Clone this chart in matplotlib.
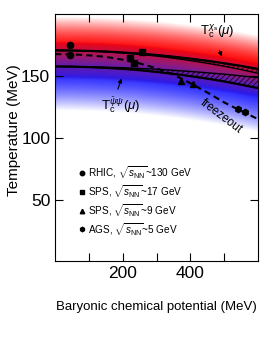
import numpy as np
import matplotlib
matplotlib.use("Agg")
import matplotlib.pyplot as plt

plt.rcParams['font.family'] = ['Liberation Sans', 'DejaVu Sans']
plt.rcParams['mathtext.fontset'] = 'custom'
plt.rcParams['mathtext.rm'] = 'Liberation Sans'
plt.rcParams['mathtext.it'] = 'Liberation Sans:italic'
plt.rcParams['hatch.linewidth'] = 0.5

# transition lines (mu in MeV, T in MeV)
mu = [0, 50, 100, 150, 200, 250, 300, 350, 400, 450, 500, 550, 600]
tchi_hi = [170.5, 170.4, 170.1, 169.6, 168.8, 167.9, 166.8, 165.4, 163.8, 162.1, 160.1, 157.9, 155.5]
tchi_lo = [170.5, 170.4, 170.0, 169.3, 168.4, 167.3, 165.9, 164.2, 162.3, 160.1, 157.7, 155.0, 152.0]
tpsi_hi = [157.5, 157.4, 157.3, 156.9, 156.5, 155.9, 155.3, 154.4, 153.5, 152.4, 151.3, 149.9, 148.5]
tpsi_lo = [157.5, 157.4, 157.0, 156.4, 155.6, 154.5, 153.1, 151.5, 149.7, 147.7, 145.4, 142.8, 140.0]
freezeout = [167.5, 167.3, 166.5, 165.3, 163.0, 160.0, 156.0, 151.0, 144.0, 136.5, 128.5, 121.5, 115.0]

# data points
rhic_mu = [45, 45]
rhic_t = [175, 166.5]
sps17_mu = [222, 232, 258]
sps17_t = [164.5, 160.0, 169.5]
sps9_mu = [371, 409]
sps9_t = [145.5, 143.0]
ags_mu = [542, 562]
ags_t = [123.5, 121.0]

legend_labels = [r'RHIC, $\sqrt{s_{\rm NN}}$~130 GeV',
                 r'SPS, $\sqrt{s_{\rm NN}}$~17 GeV',
                 r'SPS, $\sqrt{s_{\rm NN}}$~9 GeV',
                 r'AGS, $\sqrt{s_{\rm NN}}$~5 GeV']
legend_markers = ['o', 's', '^', 'h']

fig = plt.figure(figsize=(2.66, 3.39), dpi=100)
ax = fig.add_axes([0.207, 0.229, 0.763, 0.730])

# colour bands: red around T_chi, blue around T_psi
gx = np.linspace(0, 600, 601)
gy = np.linspace(0, 200, 401)
X, Y = np.meshgrid(gx, gy)
dr = Y - np.interp(X, mu, tchi_hi)
db = Y - np.interp(X, mu, tpsi_lo)
wr = np.where(dr > 0, 1 - (np.abs(dr) / 27.0) ** 1.6, 1 + dr / 24.0)
wb = np.where(db < 0, 1 - (np.abs(db) / 36.0) ** 1.6, 1 - db / 20.0)
wr = np.clip(wr, 0, 1)
wb = np.clip(wb, 0, 1)
red = np.array([1.0, 0.0, 0.0])
blue = np.array([0.1, 0.1, 1.0])
tot = wr + wb
scale = np.where(tot > 1, 1 / np.maximum(tot, 1e-9), 1.0)
wr2 = wr * scale
wb2 = wb * scale
ww = 1 - wr2 - wb2
img = ww[..., None] * 1.0 + wr2[..., None] * red + wb2[..., None] * blue
img[..., 1] += 0.12 * np.minimum(wr2, wb2)
img = np.clip(img, 0, 1)
ax.imshow(img, extent=[0, 600, 0, 200], origin='lower', aspect='auto', interpolation='bilinear')

ax.fill_between(mu, tchi_lo, tchi_hi, facecolor='none', edgecolor='black', hatch='//////', linewidth=0)
ax.fill_between(mu, tpsi_lo, tpsi_hi, facecolor='none', edgecolor='black', hatch='//////', linewidth=0)
for curve in (tchi_hi, tchi_lo, tpsi_hi, tpsi_lo):
    ax.plot(mu, curve, color='black', lw=1.0)
ax.plot(mu, tchi_hi, color='black', lw=1.6)
ax.plot(mu, tpsi_lo, color='black', lw=1.6)
ax.plot(mu, freezeout, color='black', lw=1.5, ls=(0, (3, 2)))

ax.plot(rhic_mu, rhic_t, 'o', color='black', ms=4.5)
ax.plot(sps17_mu, sps17_t, 's', color='black', ms=4)
ax.plot(sps9_mu, sps9_t, '^', color='black', ms=4)
ax.plot(ags_mu, ags_t, 'h', color='black', ms=4.5)

# labels on curves
ax.text(428, 186, r'$\mathrm{T}_\mathrm{c}^{\chi_\mathrm{s}}(\mu)$', fontsize=9.5, va='center')
ax.annotate('', xy=(496, 163.5), xytext=(483, 172.5),
            arrowprops=dict(arrowstyle='-|>', color='black', lw=0.8, mutation_scale=6))
ax.text(135, 126, r'$\mathrm{T}_\mathrm{c}^{\bar\psi\psi}(\mu)$', fontsize=9.5, va='center')
ax.annotate('', xy=(199, 150), xytext=(183, 137),
            arrowprops=dict(arrowstyle='-|>', color='black', lw=0.8, mutation_scale=6))
ax.text(491, 117, 'freezeout', fontsize=8.5, rotation=-37, ha='center', va='center')

# legend as text
for i, (lab, mk) in enumerate(zip(legend_labels, legend_markers)):
    ty = 71.5 - 15.2 * i
    ax.plot([79], [ty], mk, color='black', ms=3.2)
    ax.text(98, ty, lab, fontsize=7.2, va='center')

ax.set_xlim(0, 600)
ax.set_ylim(0, 200)
ax.set_xticks([100, 200, 300, 400, 500])
ax.set_xticklabels(['', '200', '', '400', ''])
ax.set_yticks([50, 100, 150])
ax.tick_params(direction='in', top=True, right=True, length=6, width=0.8, labelsize=12.5)
ax.set_xlabel('Baryonic chemical potential (MeV)', fontsize=9.5, labelpad=14)
ax.set_ylabel('Temperature (MeV)', fontsize=11)
ax.yaxis.set_label_coords(-0.17, 0.53)
for s in ax.spines.values():
    s.set_linewidth(0.8)

fig.savefig('out.png', dpi=100)
